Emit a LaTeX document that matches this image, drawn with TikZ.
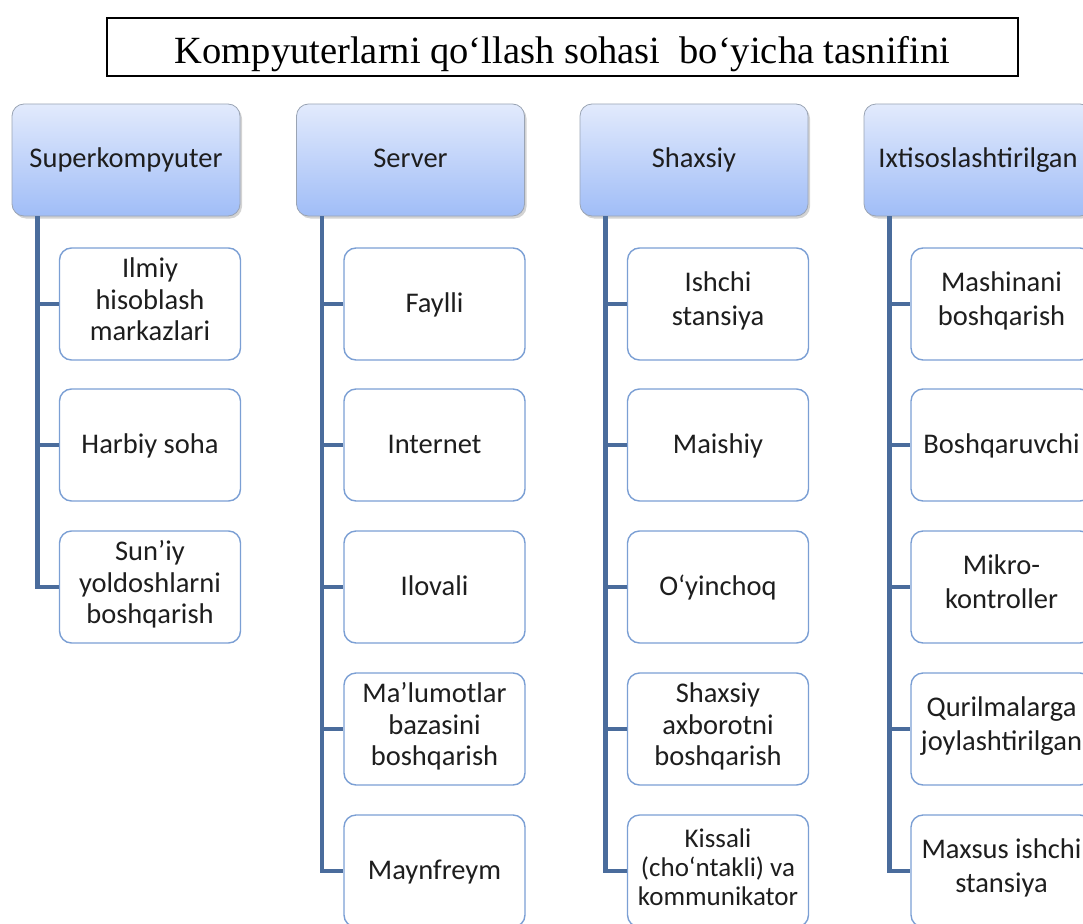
\documentclass[tikz,border=0pt]{standalone}
\usepackage{fontspec}
\setmainfont{Carlito}
\newfontfamily\titlefont{Liberation Serif}
\usetikzlibrary{shadows}
\definecolor{trunkblue}{HTML}{4A6C9C}
\definecolor{leafedge}{HTML}{7B9FD4}
\definecolor{headtop}{HTML}{E2EAFC}
\definecolor{headbot}{HTML}{A0BDF7}
\definecolor{headedge}{HTML}{9AA4B4}
\definecolor{inktext}{HTML}{1E1E1E}
\newcommand{\toplinestrut}{\rule{0pt}{\dimexpr0.7\baselineskip+5pt\relax}}
\tikzset{
  x=1pt, y=-1pt,
  titlebox/.style={draw=black, line width=1.3pt, minimum width=911pt, minimum height=58pt,
    inner sep=0pt},
  titletextstyle/.style={font=\titlefont\fontsize{38.5}{42}\selectfont, anchor=base, inner sep=0pt},
  headbox/.style={draw=headedge, line width=0.8pt, rounded corners=12pt,
    top color=headtop, bottom color=headbot, minimum width=228pt, minimum height=112pt,
    text=inktext, font=\fontsize{28.5}{31.5}\selectfont, text height=20pt, text depth=6pt,
    drop shadow={shadow xshift=2pt, shadow yshift=-2.5pt, opacity=0.35, fill=gray}},
  leafbox/.style={draw=leafedge, line width=1.4pt, rounded corners=12pt, fill=white,
    minimum width=181pt, minimum height=112pt, align=center, text=inktext,
    font=\fontsize{28.5}{31.5}\selectfont,
    execute at begin node=\toplinestrut, execute at end node=\strut},
  twoline/.style={font=\fontsize{28.5}{34}\selectfont},
  smallleaf/.style={font=\fontsize{27}{29}\selectfont},
  trunk/.style={draw=trunkblue, line width=4.6pt}
}
\begin{document}
\begin{tikzpicture}
\useasboundingbox (0,0) rectangle (1083,923);
\clip (0,0) rectangle (1083,923);

% title
\node[titlebox] (title) at (562.5,47) {};
\node[titletextstyle] (titletext) at (562.5,64)
  {Kompyuterlarni qo‘llash sohasi\ \ bo‘yicha tasnifini};

% column heads
\node[headbox] (h1) at (126,160) {Superkompyuter};
\node[headbox] (h2) at (410.5,160) {Server};
\node[headbox] (h3) at (694,160) {Shaxsiy};
\node[headbox] (h4) at (978,160) {Ixtisoslashtirilgan};

% column 1
\node[leafbox] (a1) at (150,304) {Ilmiy\\hisoblash\\markazlari};
\node[leafbox] (a2) at (150,445) {Harbiy soha};
\node[leafbox] (a3) at (150,587) {Sun’iy\\yoldoshlarni\\boshqarish};

% column 2
\node[leafbox] (b1) at (434.5,304) {Faylli};
\node[leafbox] (b2) at (434.5,445) {Internet};
\node[leafbox] (b3) at (434.5,587) {Ilovali};
\node[leafbox] (b4) at (434.5,729) {Ma’lumotlar\\bazasini\\boshqarish};
\node[leafbox] (b5) at (434.5,871) {Maynfreym};

% column 3
\node[leafbox, twoline] (c1) at (718,304) {Ishchi\\stansiya};
\node[leafbox] (c2) at (718,445) {Maishiy};
\node[leafbox] (c3) at (718,587) {O‘yinchoq};
\node[leafbox] (c4) at (718,729) {Shaxsiy\\axborotni\\boshqarish};
\node[leafbox, smallleaf] (c5) at (718,871) {Kissali\\(cho‘ntakli) va\\kommunikator};

% column 4
\node[leafbox, twoline] (d1) at (1001.5,304) {Mashinani\\boshqarish};
\node[leafbox] (d2) at (1001.5,445) {Boshqaruvchi};
\node[leafbox, twoline] (d3) at (1001.5,587) {Mikro-\\kontroller};
\node[leafbox, twoline] (d4) at (1001.5,729) {Qurilmalarga\\joylashtirilgan};
\node[leafbox, twoline] (d5) at (1001.5,871) {Maxsus ishchi\\stansiya};

% trunks: from each head down its left side, with a stub to every leaf
\foreach \h/\leaves in {h1/{a1,a2,a3}, h2/{b1,b2,b3,b4,b5}, h3/{c1,c2,c3,c4,c5}, h4/{d1,d2,d3,d4,d5}} {
  \coordinate (\h-root) at ([xshift=26pt]\h.south west);
  \foreach \l in \leaves {
    \draw[trunk] (\h-root) |- (\l.west);
  }
}
\end{tikzpicture}
\end{document}
